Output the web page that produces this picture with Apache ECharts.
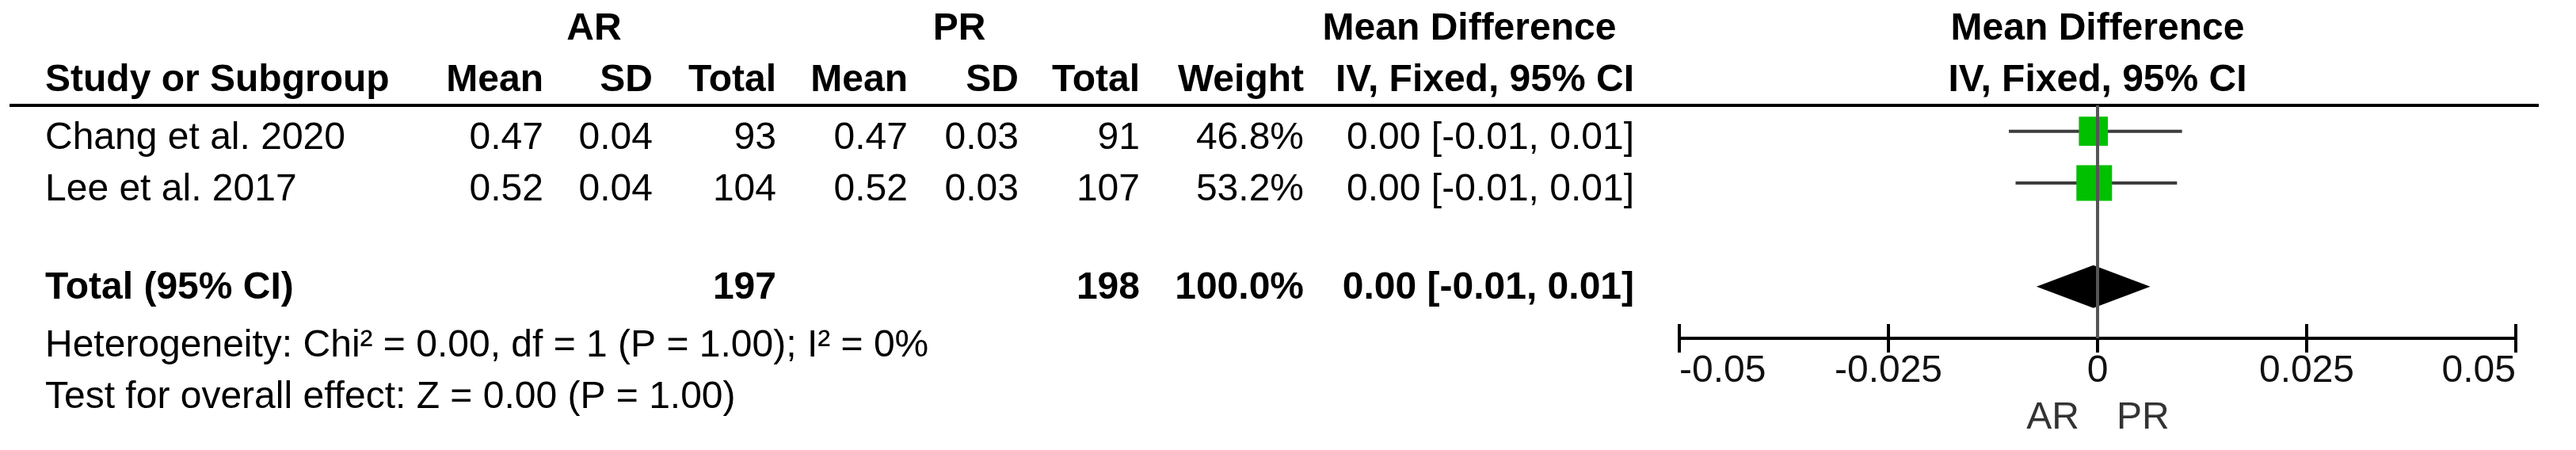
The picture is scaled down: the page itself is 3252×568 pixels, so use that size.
<!DOCTYPE html>
<html>
<head>
<meta charset="utf-8">
<script src="https://cdn.jsdelivr.net/npm/echarts@6/dist/echarts.min.js"></script>
<style>
  html, body { margin: 0; padding: 0; background: #fff; }
  #forest { width: 3252px; height: 568px; }
</style>
</head>
<body>
<div id="forest"></div>
<script>
let studies = ['Chang et al. 2020', 'Lee et al. 2017']
let arMean = [0.47, 0.52]
let arSd = [0.04, 0.04]
let arTotal = [93, 104]
let prMean = [0.47, 0.52]
let prSd = [0.03, 0.03]
let prTotal = [91, 107]
let weights = [46.8, 53.2]
// mean difference with 95% CI
let mdValue = [-0.0005, -0.0004]
let mdLow = [-0.0106, -0.0098]
let mdHigh = [0.0101, 0.0095]
let pooled = [-0.0073, -0.0005, 0.0063] // low, estimate, high
let heterogeneity = 'Heterogeneity: Chi² = 0.00, df = 1 (P = 1.00); I² = 0%'
let overallEffect = 'Test for overall effect: Z = 0.00 (P = 1.00)'
let favours = ['AR', 'PR']

let font = '"Liberation Sans", Arial, sans-serif'
let totalRow = 4

function fmt2(v) {
  return (Math.round(v * 100) / 100 + 0).toFixed(2)
}
function ciText(m, l, h) {
  return fmt2(m) + ' [' + fmt2(l) + ', ' + fmt2(h) + ']'
}
function txt(s, x, base, align, bold, color) {
  return {
    type: 'text',
    x: x,
    y: base - 16.5,
    silent: true,
    style: {
      text: s,
      font: (bold ? 'bold ' : '') + '48px ' + font,
      textAlign: align, align: align,
      textVerticalAlign: 'middle', verticalAlign: 'middle',
      fill: color || '#000'
    }
  }
}

// table columns (right edges) and row baselines
let col = {study: 57, arMean: 686, arSd: 824, arTotal: 980, prMean: 1146, prSd: 1286, prTotal: 1439, weight: 1646, ci: 2063}
let rowBase = [191, 256]

let table = [
  {type: 'line', silent: true, shape: {x1: 12, y1: 133, x2: 3205, y2: 133}, style: {stroke: '#000', lineWidth: 4}},
  txt('AR', 750, 53, 'center', true),
  txt('PR', 1211, 53, 'center', true),
  txt('Mean Difference', 1855, 53, 'center', true),
  txt('Mean Difference', 2648, 53, 'center', true),
  txt('Study or Subgroup', col.study, 118, 'left', true),
  txt('Mean', col.arMean, 118, 'right', true),
  txt('SD', col.arSd, 118, 'right', true),
  txt('Total', col.arTotal, 118, 'right', true),
  txt('Mean', col.prMean, 118, 'right', true),
  txt('SD', col.prSd, 118, 'right', true),
  txt('Total', col.prTotal, 118, 'right', true),
  txt('Weight', col.weight, 118, 'right', true),
  txt('IV, Fixed, 95% CI', col.ci, 118, 'right', true),
  txt('IV, Fixed, 95% CI', 2648, 118, 'center', true)
]
studies.forEach(function (name, i) {
  let b = rowBase[i]
  table.push(
    txt(name, col.study, b, 'left'),
    txt(arMean[i].toFixed(2), col.arMean, b, 'right'),
    txt(arSd[i].toFixed(2), col.arSd, b, 'right'),
    txt(String(arTotal[i]), col.arTotal, b, 'right'),
    txt(prMean[i].toFixed(2), col.prMean, b, 'right'),
    txt(prSd[i].toFixed(2), col.prSd, b, 'right'),
    txt(String(prTotal[i]), col.prTotal, b, 'right'),
    txt(weights[i].toFixed(1) + '%', col.weight, b, 'right'),
    txt(ciText(mdValue[i], mdLow[i], mdHigh[i]), col.ci, b, 'right')
  )
})
let sum = function (a) { return a.reduce(function (s, v) { return s + v }, 0) }
table.push(
  txt('Total (95% CI)', col.study, 380, 'left', true),
  txt(String(sum(arTotal)), col.arTotal, 380, 'right', true),
  txt(String(sum(prTotal)), col.prTotal, 380, 'right', true),
  txt(sum(weights).toFixed(1) + '%', col.weight, 380, 'right', true),
  txt(ciText(pooled[1], pooled[0], pooled[2]), col.ci, 380, 'right', true),
  txt(heterogeneity, col.study, 453, 'left'),
  txt(overallEffect, col.study, 518, 'left'),
  txt(favours[0], 2625, 544, 'right', false, '#333'),
  txt(favours[1], 2672, 544, 'left', false, '#333')
)

let forest = echarts.init(document.getElementById('forest'))
let forestOption = {
  animation: false,
  grid: {
    left: 2120,
    right: 76,
    top: 133,
    bottom: 141
  },
  xAxis: [
    {
      type: 'value',
      min: -0.05,
      max: 0.05,
      interval: 0.025,
      position: 'bottom',
      axisLine: {
        lineStyle: {color: '#000', width: 4}
      },
      axisTick: {
        length: 18,
        lineStyle: {color: '#000', width: 4}
      },
      axisLabel: {
        fontSize: 48,
        fontFamily: font,
        color: '#111',
        margin: 18,
        alignMinLabel: 'left',
        alignMaxLabel: 'right'
      },
      splitLine: {show: false}
    },
    {
      type: 'value',
      min: -0.05,
      max: 0.05,
      interval: 0.025,
      position: 'bottom',
      axisLine: {
        lineStyle: {color: '#000', width: 4}
      },
      axisTick: {
        inside: true,
        length: 18,
        lineStyle: {color: '#000', width: 4}
      },
      axisLabel: {show: false},
      splitLine: {show: false}
    }
  ],
  yAxis: {
    type: 'value',
    inverse: true,
    min: 0.5,
    max: 5,
    show: false
  },
  graphic: table,
  series: [
    {
      type: 'line',
      data: [],
      silent: true,
      z: 1,
      markLine: {
        silent: true,
        symbol: 'none',
        label: {show: false},
        lineStyle: {color: '#555', width: 4, type: 'solid'},
        data: [{xAxis: 0}]
      }
    },
    {
      type: 'custom',
      z: 2,
      encode: {x: [0, 1], y: 2},
      data: studies.map(function (s, i) { return [mdLow[i], mdHigh[i], i + 1] }),
      renderItem: function (params, api) {
        let a = api.coord([api.value(0), api.value(2)])
        let b = api.coord([api.value(1), api.value(2)])
        return {
          type: 'line',
          shape: {x1: a[0], y1: a[1], x2: b[0], y2: b[1]},
          style: {stroke: '#3d3d3d', lineWidth: 4}
        }
      }
    },
    {
      type: 'scatter',
      z: 3,
      symbol: 'rect',
      symbolSize: function (v) {
        return 45 * Math.pow(v[2] / 53.2, 1.6)
      },
      itemStyle: {color: '#00c000', opacity: 1},
      data: studies.map(function (s, i) { return [mdValue[i], i + 1, weights[i]] })
    },
    {
      type: 'custom',
      z: 3,
      encode: {x: [0, 1, 2], y: 3},
      data: [[pooled[0], pooled[1], pooled[2], totalRow]],
      renderItem: function (params, api) {
        let y = api.value(3)
        let l = api.coord([api.value(0), y])
        let m = api.coord([api.value(1), y])
        let r = api.coord([api.value(2), y])
        let h = 27
        return {
          type: 'polygon',
          shape: {points: [[l[0], l[1]], [m[0], m[1] - h], [r[0], r[1]], [m[0], m[1] + h]]},
          style: {fill: '#000'}
        }
      }
    }
  ]
}
forest.setOption(forestOption)
</script>
</body>
</html>
